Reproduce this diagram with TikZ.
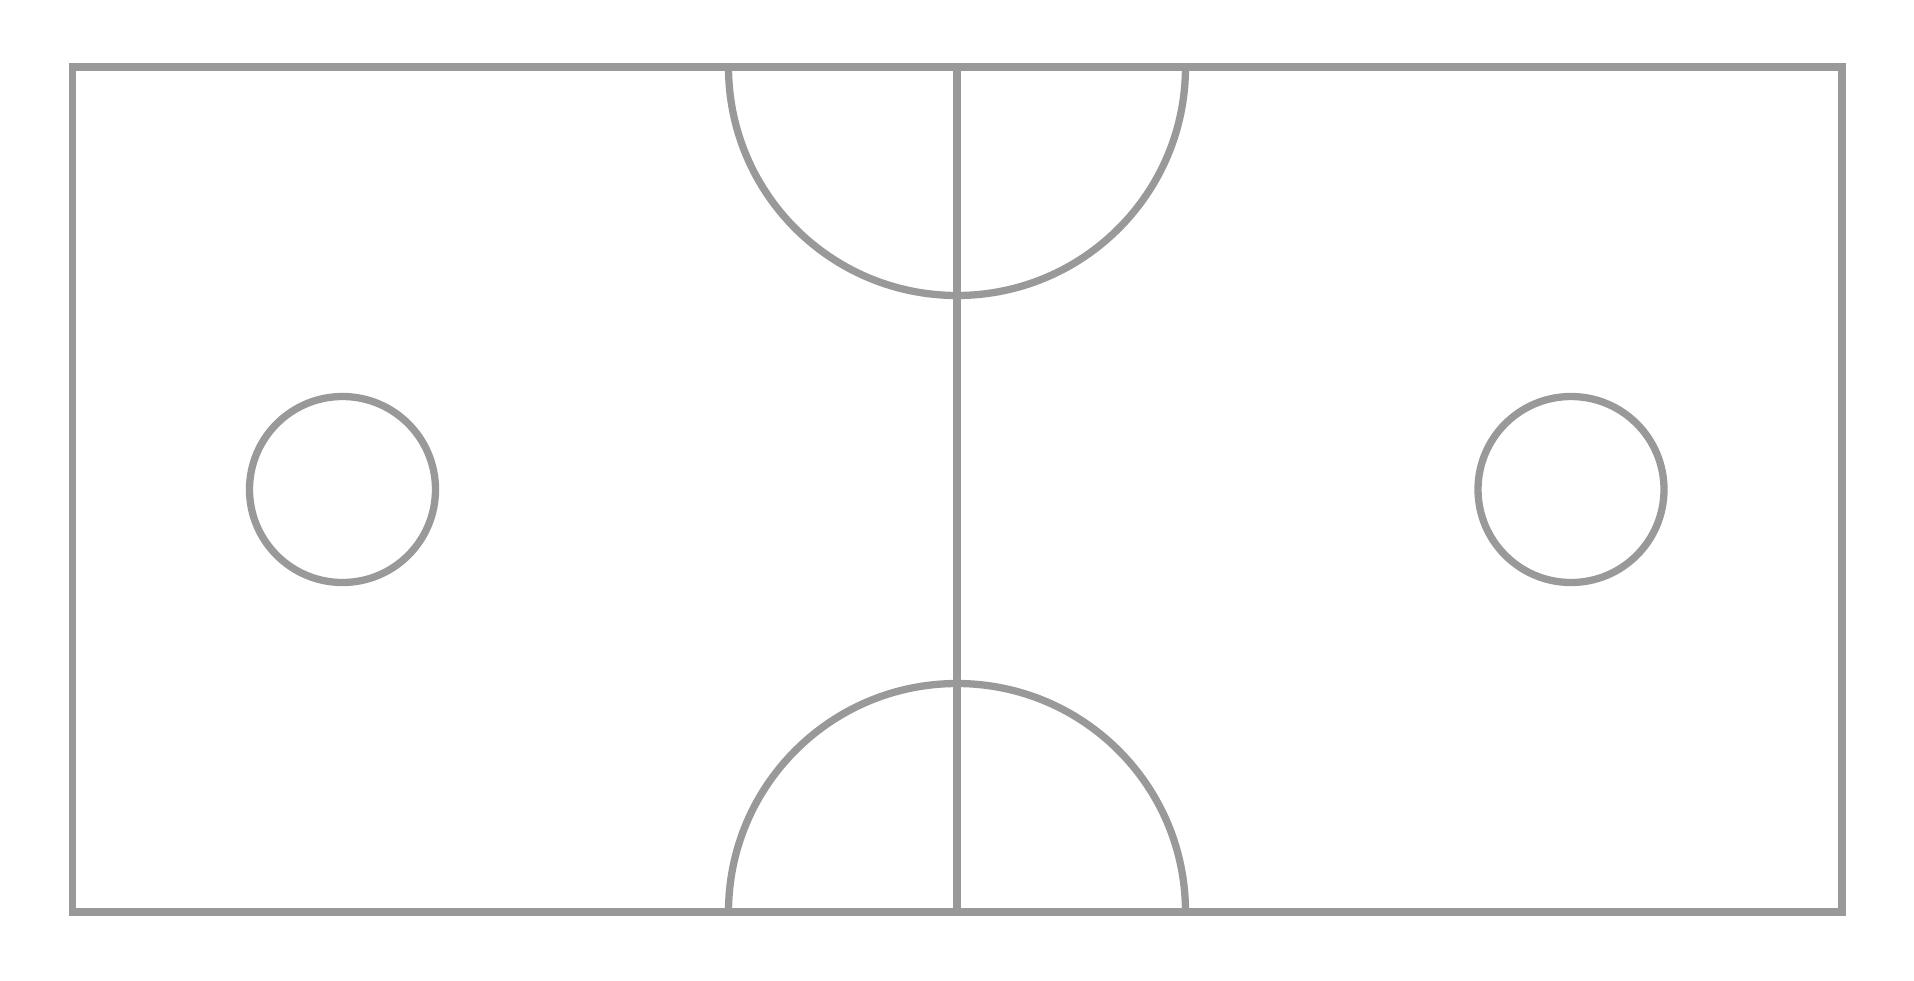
\documentclass[tikz,border=0pt]{standalone}
\begin{document}
\begin{tikzpicture}[x=1pt,y=-1pt,
  court/.style={draw=courtgray,line width=7.3pt}]
\definecolor{courtgray}{HTML}{999999}
\useasboundingbox (0,0) rectangle (1914,980);
% outer boundary
\draw[court] (72.5,67) rectangle (1842,912);
% center line
\draw[court] (957,67) -- (957,912);
% top semicircle (bulging downwards)
\draw[court] (728.5,67) arc[start angle=180,end angle=0,radius=228.5];
% bottom semicircle (bulging upwards)
\draw[court] (728.5,912) arc[start angle=180,end angle=360,radius=228.5];
% circles
\draw[court] (342.5,489.5) circle[radius=93];
\draw[court] (1571,489.5) circle[radius=93];
\end{tikzpicture}
\end{document}
